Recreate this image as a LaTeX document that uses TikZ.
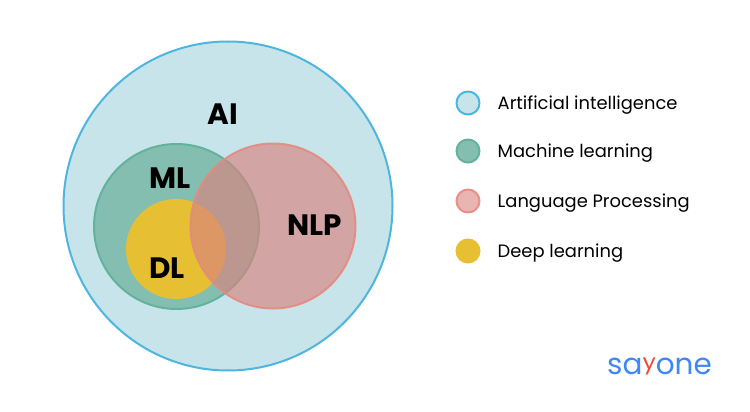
\documentclass[tikz,border=0pt]{standalone}
\usepackage{fontspec}
\setmainfont{Poppins}
\usetikzlibrary{positioning}
\definecolor{aifill}{HTML}{C8E4EB}
\definecolor{ailine}{HTML}{4DB6DF}
\definecolor{mlfill}{HTML}{84BEB0}
\definecolor{mlline}{HTML}{62B39C}
\definecolor{nlpfill}{HTML}{D9837F}
\definecolor{nlpline}{HTML}{E58A80}
\definecolor{dlfill}{HTML}{E7BF33}
\definecolor{logoblue}{HTML}{3F87F5}
\definecolor{logored}{HTML}{EF4B35}
\tikzset{
  disc/.style={circle,inner sep=0pt,outer sep=0pt,line width=2pt},
  bigtag/.style={inner sep=0pt,font=\fontsize{29.5}{30}\selectfont\bfseries},
  legtag/.style={inner sep=0pt,right=18pt of #1,yshift=-2.3pt,font=\fontsize{17.9}{20}\selectfont},
  aidisc/.style={disc,draw=ailine,fill=aifill},
  mldisc/.style={disc,draw=mlline,fill=mlfill},
  nlpdisc/.style={disc,draw=nlpline,fill=nlpfill,fill opacity=.65,draw opacity=.9},
  dldisc/.style={disc,draw=dlfill,fill=dlfill},
}
\begin{document}
\begin{tikzpicture}[x=1pt,y=-1pt]
\useasboundingbox (0,0) rectangle (750,412);
\node[aidisc,minimum size=329pt] (ai) at (228,206) {};
\node[mldisc,minimum size=165pt] (ml) at (176.5,226.5) {};
\node[dldisc,minimum size=98pt] (dl) at (176,249) {};
\node[nlpdisc,minimum size=165pt] (nlp) at (273,226) {};
\node[bigtag] (aitag) at (222.5,114) {AI};
\node[bigtag] (mltag) at (170,178) {ML};
\node[bigtag] (dltag) at (167,268.5) {DL};
\node[bigtag] (nlptag) at (314.5,225.5) {NLP};
% legend
\node[aidisc,minimum size=23pt] (aidot) at (468,103) {};
\node[mldisc,minimum size=23pt] (mldot) at (468,151) {};
\node[nlpdisc,fill opacity=.6,minimum size=23pt] (nlpdot) at (468,201) {};
\node[dldisc,minimum size=23pt] (dldot) at (468,251) {};
\node[legtag=aidot] (ailab) {Artificial intelligence};
\node[legtag=mldot] (mllab) {Machine learning};
\node[legtag=nlpdot] (nlplab) {Language Processing};
\node[legtag=dldot] (dllab) {Deep learning};
% logo
\node[inner sep=0pt,anchor=base,text=logoblue,font=\fontsize{29.5}{30}\selectfont] (logo) at (659.5,374) {sa\raisebox{.16em}{\scalebox{.8}[.72]{\textcolor{logored}{y}}}one};
\end{tikzpicture}
\end{document}
